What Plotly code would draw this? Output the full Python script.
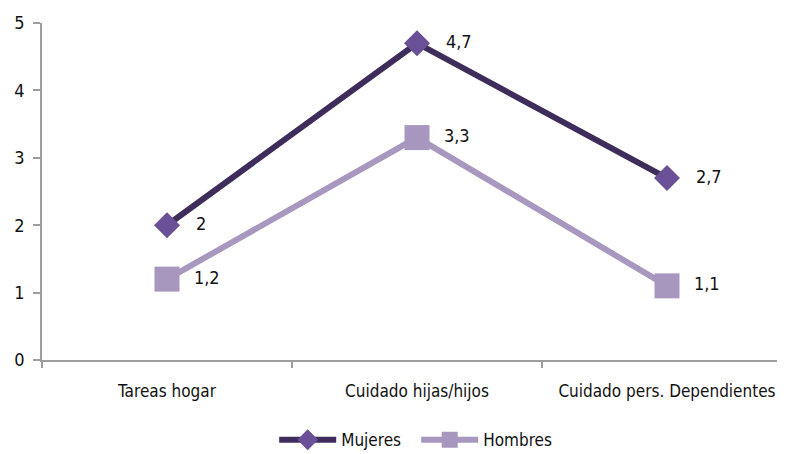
import plotly.graph_objects as go

categories = ["Tareas hogar", "Cuidado hijas/hijos", "Cuidado pers. Dependientes"]
mujeres = [2, 4.7, 2.7]
hombres = [1.2, 3.3, 1.1]
y_ticks = [0, 1, 2, 3, 4, 5]

def fmt(v):
    s = ("%g" % v).replace(".", ",")
    return s

FONT = "DejaVu Sans Condensed, Liberation Sans Narrow, sans-serif"
x_idx = list(range(len(categories)))

fig = go.Figure()
fig.add_trace(go.Scatter(
    x=x_idx, y=mujeres, name="Mujeres", mode="lines+markers+text",
    line=dict(color="#3E2D5A", width=6),
    marker=dict(symbol="diamond", size=20, color="#6A5096"),
    text=["   " + fmt(v) for v in mujeres], textposition="middle right",
    textfont=dict(family=FONT, size=18, color="#111111"),
))
fig.add_trace(go.Scatter(
    x=x_idx, y=hombres, name="Hombres", mode="lines+markers+text",
    line=dict(color="#A897BF", width=6),
    marker=dict(symbol="square", size=25, color="#A797BE"),
    text=["  " + fmt(v) for v in hombres], textposition="middle right",
    textfont=dict(family=FONT, size=18, color="#111111"),
))

fig.update_layout(
    width=785, height=454,
    margin=dict(l=34, r=8, t=15, b=102),
    plot_bgcolor="white", paper_bgcolor="white",
    font=dict(family=FONT, size=17, color="#111111"),
    showlegend=True,
    legend=dict(orientation="h", xref="container", yref="container",
                x=0.52, xanchor="center", y=0.048, yanchor="middle",
                font=dict(family=FONT, size=17), itemwidth=57,
                entrywidth=70),
)
fig.update_xaxes(
    range=[-0.5, 2.472], tickmode="array", tickvals=x_idx, ticktext=categories,
    showgrid=False, showline=True, linecolor="#9E9E9E", linewidth=1.5,
    ticks="", zeroline=False, tickfont=dict(family=FONT, size=17), automargin=False,
    ticklabelstandoff=15,
)
fig.update_xaxes(minor=dict(tickmode="array", tickvals=[-0.5, 0.5, 1.5, 2.5],
                            ticks="outside", ticklen=6, tickcolor="#9E9E9E", tickwidth=1.5))
fig.update_yaxes(
    range=[0, 5], tickvals=y_ticks, showgrid=False, showline=True,
    linecolor="#9E9E9E", linewidth=1.5, ticks="outside", ticklen=7,
    tickcolor="#9E9E9E", tickwidth=1.5, zeroline=False, automargin=False,
    tickfont=dict(family=FONT, size=18), ticklabelstandoff=5,
)

fig.write_html("out.html")
